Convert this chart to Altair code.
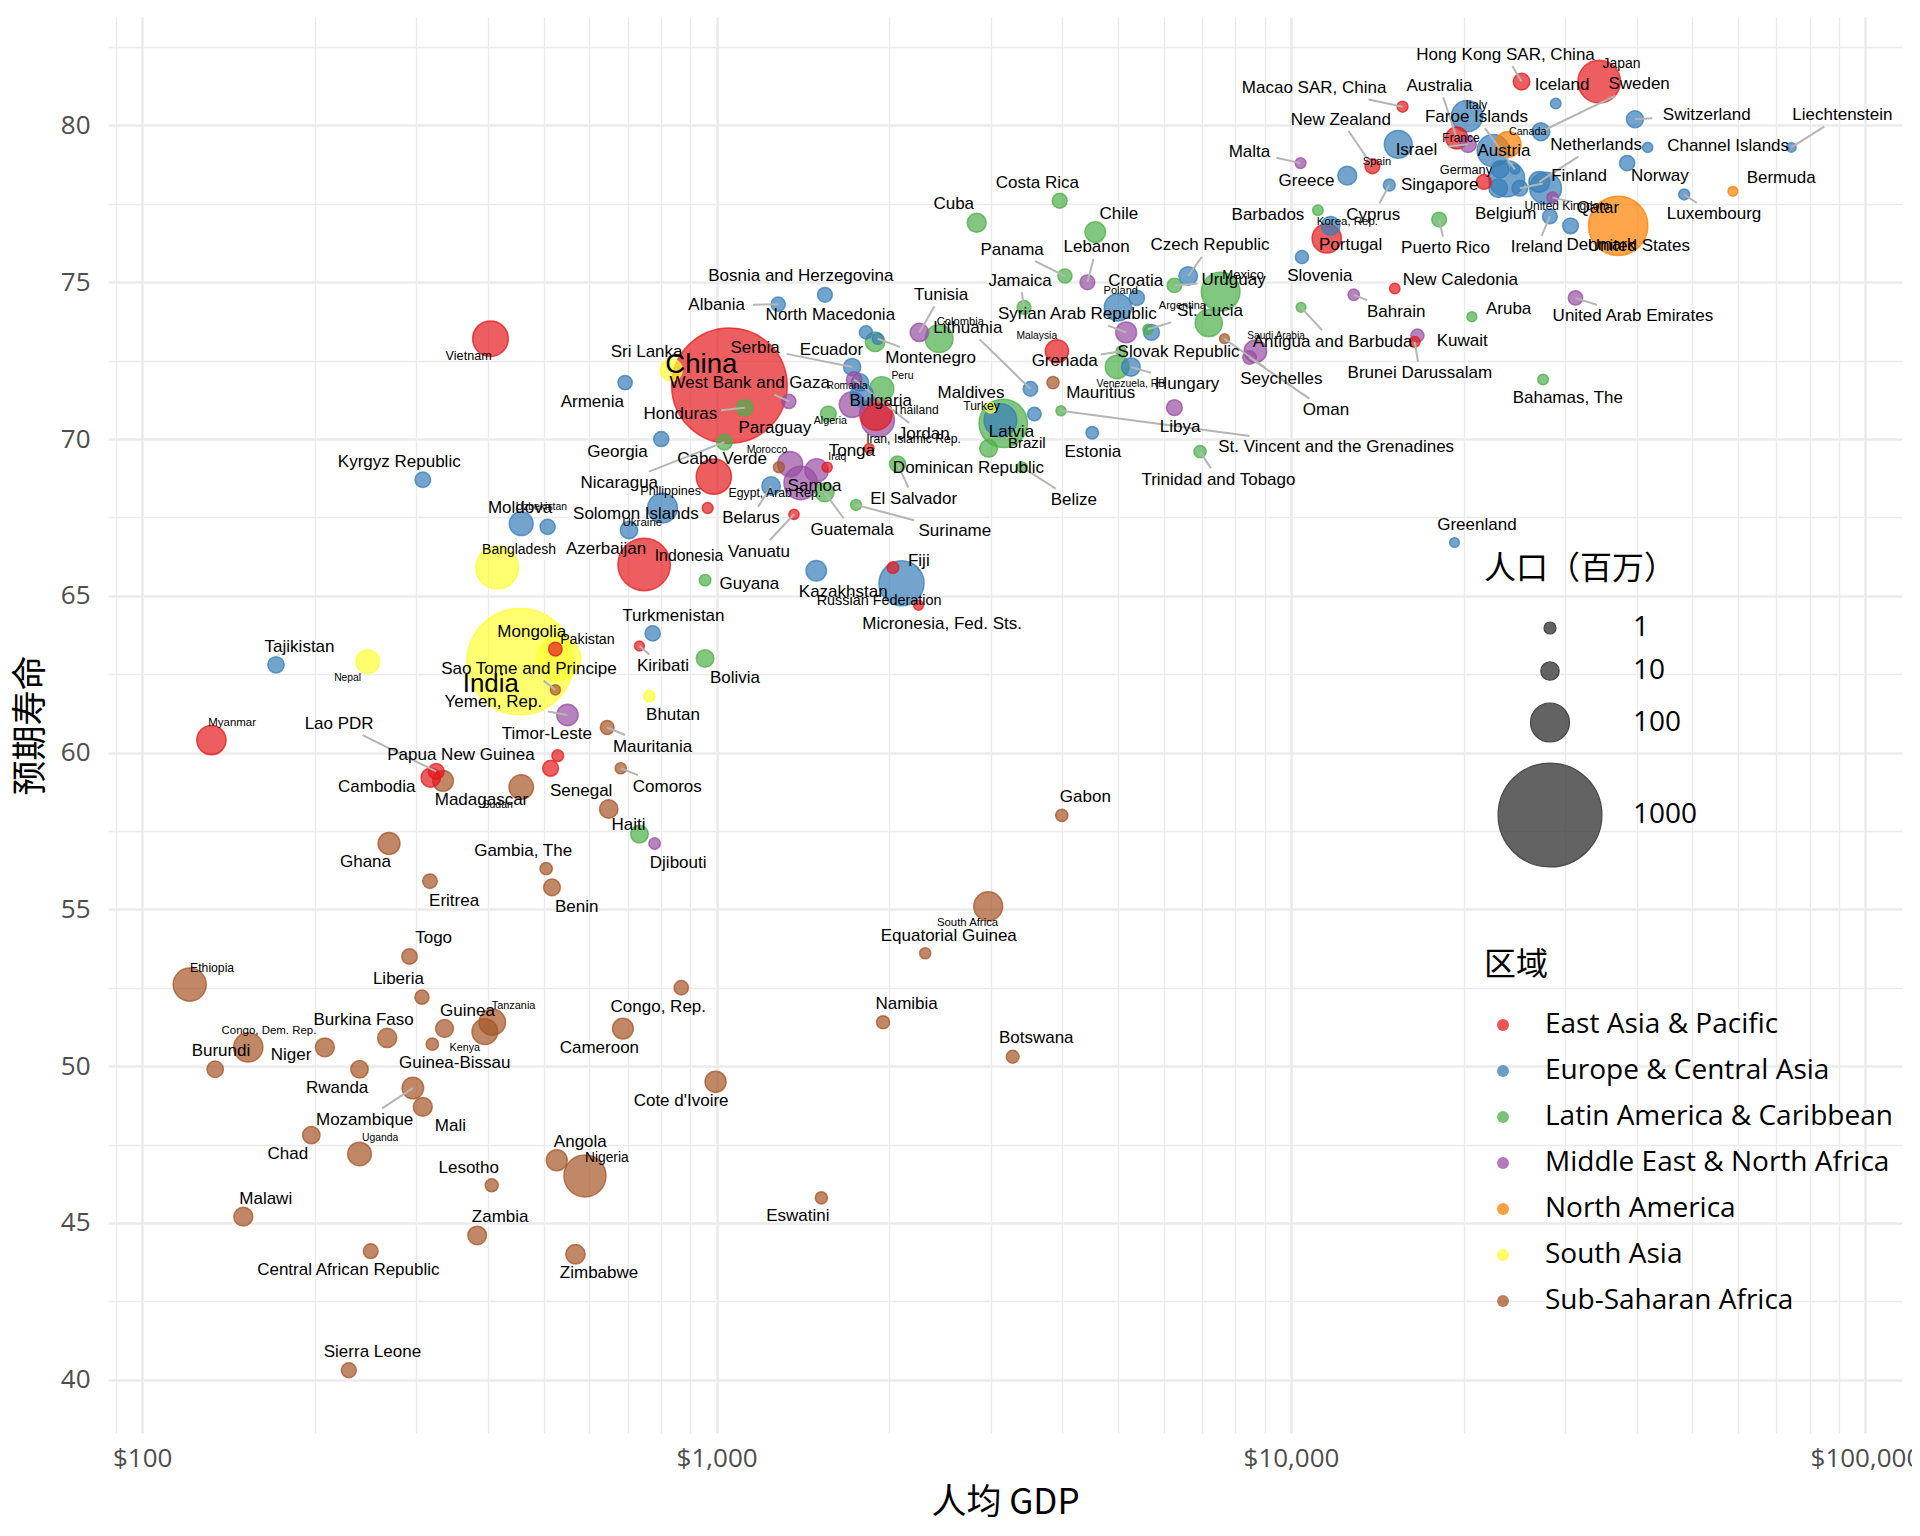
import math
import altair as alt
import pandas as pd

REGIONS = ["East Asia & Pacific", "Europe & Central Asia", "Latin America & Caribbean",
           "Middle East & North Africa", "North America", "South Asia", "Sub-Saharan Africa"]
COLORS = ["#E41A1C", "#377EB8", "#4DAF4A", "#984EA3", "#FF7F00", "#FFFF33", "#A65628"]

# ---- countries by region -------------------------------------------------
names_eap = ["Japan", "Hong Kong SAR, China", "Australia", "New Zealand", "Macao SAR, China",
             "Singapore", "Korea, Rep.", "New Caledonia", "Brunei Darussalam", "Malaysia",
             "Thailand", "China", "Vietnam", "Philippines", "Samoa",
             "Tonga", "Vanuatu", "Solomon Islands", "Indonesia", "Fiji",
             "Micronesia, Fed. Sts.", "Kiribati", "Mongolia", "Timor-Leste", "Papua New Guinea",
             "Lao PDR", "Cambodia", "Myanmar"]
names_eca = ["Iceland", "Sweden", "Switzerland", "Liechtenstein", "Channel Islands",
             "Italy", "Spain", "France", "Faroe Islands", "Austria",
             "Germany", "Belgium", "Finland", "Netherlands", "United Kingdom",
             "Ireland", "Denmark", "Luxembourg", "Norway", "Cyprus",
             "Greece", "Portugal", "Slovenia", "Greenland", "Hungary",
             "Slovak Republic", "Czech Republic", "Croatia", "Poland", "Lithuania",
             "Montenegro", "North Macedonia", "Bosnia and Herzegovina", "Albania", "Serbia",
             "Romania", "Bulgaria", "Turkey", "Latvia", "Estonia",
             "Belarus", "Ukraine", "Azerbaijan", "Uzbekistan", "Moldova",
             "Kazakhstan", "Russian Federation", "Turkmenistan", "Tajikistan", "Kyrgyz Republic",
             "Armenia", "Georgia"]
names_lac = ["Barbados", "Puerto Rico", "Aruba", "Antigua and Barbuda", "Bahamas, The",
             "St. Vincent and the Grenadines", "Trinidad and Tobago", "Venezuela, RB", "St. Lucia", "Argentina",
             "Uruguay", "Mexico", "Grenada", "Jamaica", "Panama",
             "Costa Rica", "Cuba", "Chile", "Colombia", "Ecuador",
             "Peru", "Paraguay", "Honduras", "Nicaragua", "Guatemala",
             "El Salvador", "Suriname", "Dominican Republic", "Belize", "Brazil",
             "Guyana", "Bolivia", "Haiti"]
names_mena = ["Israel", "Malta", "Qatar", "Bahrain", "United Arab Emirates",
              "Kuwait", "Oman", "Saudi Arabia", "Libya", "Syrian Arab Republic",
              "Lebanon", "Tunisia", "Jordan", "Algeria", "Iran, Islamic Rep.",
              "West Bank and Gaza", "Morocco", "Iraq", "Egypt, Arab Rep.", "Yemen, Rep.",
              "Djibouti"]
names_na = ["Canada", "United States", "Bermuda"]
names_sa = ["Sri Lanka", "Maldives", "Bangladesh", "Nepal", "India", "Pakistan", "Bhutan"]
names_ssa = ["Seychelles", "Mauritius", "Cabo Verde", "Sao Tome and Principe", "Mauritania",
             "Comoros", "Madagascar", "Sudan", "Senegal", "Ghana",
             "Gambia, The", "Eritrea", "Benin", "South Africa", "Gabon",
             "Equatorial Guinea", "Togo", "Ethiopia", "Liberia", "Namibia",
             "Botswana", "Eswatini", "Cote d'Ivoire", "Congo, Rep.", "Cameroon",
             "Tanzania", "Guinea", "Kenya", "Guinea-Bissau", "Congo, Dem. Rep.",
             "Burundi", "Burkina Faso", "Niger", "Rwanda", "Mozambique",
             "Mali", "Chad", "Uganda", "Angola", "Nigeria",
             "Lesotho", "Malawi", "Zambia", "Zimbabwe", "Central African Republic",
             "Sierra Leone"]

# ---- GDP per capita (US$) --------------------------------------------------
gdp = [
    # EAP
    34400, 25200, 19430, 13860, 15640, 21670, 11540, 15160, 16420, 3913,
    1894, 1053, 404, 989, 1558, 1843, 1364, 965, 748, 2028,
    2247, 734, 524, 529, 514, 325, 318, 132,
    # ECA
    28900, 27230, 39700, 74300, 41780, 20260, 15370, 22490, 24540, 23110,
    23740, 22950, 25030, 27050, 27750, 28230, 30670, 48360, 38480, 14830,
    12530, 11720, 10450, 19260, 5264, 5717, 6622, 5391, 4996, 3519,
    1908, 1820, 1544, 1280, 1722, 1791, 1777, 3120, 3575, 4507,
    1244, 805, 704, 457, 508, 1491, 2099, 774, 171, 308,
    693, 801,
    # LAC
    11140, 18110, 20650, 10410, 27470, 3977, 6945, 4980, 5636, 7193,
    6266, 7543, 5059, 3430, 4041, 3957, 2837, 4563, 2440, 1888,
    1939, 1565, 1119, 1032, 1542, 2066, 1749, 2975, 3404, 3155,
    955, 955, 734,
    # MENA
    20340, 10390, 28530, 12860, 31280, 16600, 8470, 8670, 6266, 5165,
    4421, 2254, 1736, 1722, 1909, 1336, 1343, 1493, 1401, 550,
    780,
    # NA
    23880, 37120, 58790,
    # SA
    834, 2999, 415, 247, 455, 531, 764,
    # SSA
    7660, 3852, 1284, 524, 645, 681, 334, 457, 649, 269,
    505, 317, 517, 2971, 3990, 2308, 292, 121, 307, 1949,
    3277, 1522, 996, 868, 687, 407, 336, 395, 320, 153,
    134, 267, 208, 239, 296, 308, 197, 239, 527, 590,
    406, 150, 383, 568, 250, 229,
]

# ---- life expectancy (years) ----------------------------------------------
life = [
    # EAP
    81.4, 81.4, 79.6, 78.7, 80.6, 78.2, 76.4, 74.8, 73.1, 72.8,
    70.8, 71.7, 73.2, 68.8, 69.1, 69.7, 67.6, 67.8, 66.0, 65.9,
    64.7, 63.4, 63.3, 59.9, 59.5, 59.4, 59.2, 60.4,
    # ECA
    80.7, 79.8, 80.2, 79.3, 79.3, 80.3, 79.4, 79.2, 78.6, 78.6,
    78.3, 78.0, 78.0, 78.2, 78.0, 77.1, 76.8, 77.8, 78.8, 78.1,
    78.4, 76.8, 75.8, 66.7, 72.3, 73.4, 75.2, 74.5, 74.2, 71.6,
    73.2, 73.4, 74.6, 74.3, 72.3, 71.4, 71.8, 70.6, 70.8, 70.2,
    68.5, 67.8, 67.1, 67.3, 67.2, 65.8, 65.4, 63.8, 62.8, 68.7,
    71.8, 70.0,
    # LAC
    77.3, 77.0, 73.9, 74.2, 71.9, 70.9, 69.6, 72.3, 73.5, 73.7,
    74.9, 74.7, 72.8, 74.2, 75.2, 77.6, 76.9, 76.6, 73.2, 73.1,
    71.6, 70.8, 71.0, 69.9, 68.3, 69.2, 67.9, 69.7, 69.1, 70.5,
    65.5, 63.0, 57.4,
    # MENA
    79.4, 78.8, 77.7, 74.6, 74.5, 73.3, 72.6, 72.8, 71.0, 73.4,
    75.0, 73.4, 71.9, 71.1, 70.6, 71.2, 69.2, 69.0, 68.6, 61.2,
    57.1,
    # NA
    79.4, 76.8, 77.9,
    # SA
    72.2, 71.0, 65.9, 62.9, 62.9, 63.0, 61.8,
    # SSA
    73.2, 71.8, 69.1, 62.0, 60.8, 59.5, 59.1, 58.9, 58.2, 57.1,
    56.3, 55.9, 55.7, 55.1, 58.0, 53.6, 53.5, 52.6, 52.2, 51.4,
    50.3, 45.8, 49.5, 52.5, 51.2, 51.4, 51.2, 51.1, 50.7, 50.6,
    49.9, 50.9, 50.6, 49.9, 49.3, 48.7, 47.8, 47.2, 47.0, 46.5,
    46.2, 45.2, 44.6, 44.0, 44.1, 40.3,
]

# ---- population (millions) -------------------------------------------------
pop = [
    # EAP
    127, 6.7, 19.2, 3.9, 0.43, 4.0, 47, 0.21, 0.33, 23,
    63, 1262, 79.9, 77.9, 0.17, 0.1, 0.19, 0.41, 212, 0.81,
    0.11, 0.084, 2.4, 0.85, 5.4, 5.3, 12.2, 46.7,
    # ECA
    0.28, 8.9, 7.2, 0.033, 0.15, 57, 40, 60.9, 0.046, 8.0,
    82.2, 10.3, 5.2, 15.9, 58.9, 3.8, 5.3, 0.44, 4.5, 0.94,
    10.9, 10.3, 2.0, 0.056, 10.2, 5.4, 10.3, 4.5, 38, 3.5,
    0.6, 2.0, 3.8, 3.1, 7.5, 22.4, 8.2, 64, 2.4, 1.4,
    10, 49, 8.0, 24.7, 4.3, 14.9, 146, 4.5, 6.2, 4.9,
    3.1, 4.4,
    # LAC
    0.27, 3.8, 0.09, 0.077, 0.3, 0.11, 1.3, 24, 0.16, 37,
    3.3, 98, 0.1, 2.6, 3.0, 3.9, 11.1, 15.2, 40, 12.6,
    26, 5.3, 6.5, 5.1, 11.2, 5.9, 0.47, 8.5, 0.25, 175,
    0.74, 8.3, 8.5,
    # MENA
    6.3, 0.39, 0.6, 0.67, 3.1, 1.9, 2.3, 21, 5.3, 16,
    3.8, 9.6, 4.8, 31, 66, 2.9, 28.8, 23, 68, 17.5,
    0.72,
    # NA
    30.7, 282, 0.063,
    # SA
    19, 0.28, 128, 23.7, 1053, 138, 0.56,
    # SSA
    0.081, 1.2, 0.44, 0.14, 2.6, 0.54, 15.8, 27, 9.9, 19,
    1.3, 3.4, 6.9, 44.9, 1.2, 0.5, 4.9, 66, 2.9, 1.9,
    1.7, 1.1, 16.9, 3.2, 15.9, 34, 8.8, 31, 1.3, 47,
    6.4, 11.6, 11, 8.0, 18, 11, 8, 24, 16.4, 122,
    1.9, 11.1, 10.4, 12.2, 3.8, 4.1,
]

# ---- repelled label nudges: log10(GDP) units and years ----------------------
nudge_x = [
    # EAP
    0.039, -0.028, -0.030, -0.055, -0.154, -0.077, 0.036, 0.114, 0.009, -0.035,
    0.069, -0.049, -0.038, -0.075, -0.022, -0.030, -0.061, -0.125, 0.078, 0.045,
    0.041, 0.041, -0.041, -0.019, -0.156, -0.169, -0.094, 0.036,
    # ECA
    0.011, 0.171, 0.125, 0.089, 0.140, 0.016, -0.037, -0.056, -0.067, 0.007,
    -0.071, 0.013, 0.103, 0.099, 0.037, -0.023, 0.053, 0.052, 0.057, -0.028,
    -0.071, 0.035, 0.031, 0.039, 0.098, 0.047, 0.038, -0.002, 0.005, -0.109,
    0.092, -0.062, -0.042, -0.107, -0.169, -0.026, 0.036, -0.033, -0.040, 0.001,
    -0.035, -0.035, -0.040, 0.035, -0.048, 0.047, -0.039, 0.036, 0.041, -0.041,
    -0.057, -0.076,
    # LAC
    -0.087, 0.011, 0.064, 0.055, 0.043, 0.479, 0.032, 0.024, 0.108, -0.046,
    0.103, 0.039, -0.098, -0.007, -0.092, -0.039, -0.040, 0.041, 0.037, -0.076,
    0.036, -0.093, -0.112, -0.183, 0.048, 0.028, 0.172, -0.035, 0.090, 0.041,
    0.077, 0.052, -0.019,
    # MENA
    -0.090, -0.089, 0.079, 0.074, 0.100, 0.078, 0.133, 0.036, 0.010, -0.085,
    0.016, 0.038, 0.121, -0.038, 0.062, -0.068, -0.040, 0.036, -0.045, -0.129,
    0.041,
    # NA
    0.034, 0.036, 0.084,
    # SA
    -0.043, -0.034, 0.038, -0.035, -0.051, 0.050, 0.041,
    # SSA
    0.099, 0.083, -0.099, -0.046, 0.079, 0.081, 0.067, -0.041, -0.048, -0.041,
    -0.040, 0.042, 0.043, -0.036, 0.041, 0.041, 0.042, 0.039, -0.041, 0.041,
    0.041, -0.041, -0.060, -0.040, -0.041, 0.037, 0.040, -0.035, 0.039, 0.036,
    0.010, -0.041, -0.059, -0.039, -0.084, 0.048, -0.041, 0.036, 0.041, 0.038,
    -0.040, 0.039, 0.040, 0.041, -0.039, 0.041,
]
nudge_y = [
    # EAP
    0.565, 0.861, 1.668, 1.490, 0.597, -0.105, 0.523, 0.268, -1.008, 0.478,
    0.128, 0.670, -0.555, -0.469, -0.587, -0.077, -1.193, -0.191, 0.255, 0.211,
    -0.606, -0.638, 0.561, 0.692, 0.434, 1.521, -0.287, 0.533,
    # ECA
    0.584, 1.522, 0.128, 1.030, 0.051, 0.341, -0.565, 0.396, 1.680, 0.584,
    0.265, -0.820, 0.383, 1.171, -0.555, -0.989, -0.616, -0.638, -0.424, -0.947,
    -0.185, -0.616, -0.596, 0.565, -0.533, -0.625, 0.976, 0.552, 0.510, 1.946,
    -0.628, 0.565, 0.593, -0.032, 0.616, 0.287, -0.587, 0.447, -0.565, -0.606,
    -1.030, -0.475, -0.606, 0.533, 0.587, -0.670, -0.565, 0.565, 0.565, 0.565,
    -0.606, -0.424,
    # LAC
    -0.159, -0.906, 0.233, -1.091, -0.606, -1.167, -0.903, -0.552, 0.587, 0.552,
    0.159, 0.530, -0.297, 0.848, 0.842, 0.565, 0.584, 0.565, 0.542, -0.268,
    0.424, -0.447, -0.214, -1.308, -1.202, -1.116, -0.829, -0.616, -1.046, -0.638,
    -0.128, -0.619, 0.287,
    # MENA
    -0.182, 0.360, -0.319, -0.535, -0.587, -0.182, -1.678, 0.491, -0.616, 0.584,
    1.116, 1.203, -1.754, -0.533, -0.584, 0.584, 0.447, 0.424, -0.319, 0.424,
    -0.616,
    # NA
    0.392, -0.638, 0.415,
    # SA
    0.561, 0.478, 0.555, -0.520, -0.702, 0.606, -0.606,
    # SSA
    -1.295, -0.329, 0.265, 0.663, -0.606, -0.584, -0.616, -0.565, 0.587, -0.597,
    0.574, -0.638, -0.616, -0.520, 0.587, 0.561, 0.600, 0.542, 0.587, 0.584,
    0.587, -0.587, -0.625, -0.606, -0.619, 0.510, 0.552, -0.533, -0.606, 0.510,
    0.584, 0.574, -0.246, -0.593, -1.011, -0.619, -0.606, 0.501, 0.584, 0.555,
    0.565, 0.574, 0.587, -0.606, -0.606, 0.574,
]

groups = [names_eap, names_eca, names_lac, names_mena, names_na, names_sa, names_ssa]
country = [n for g in groups for n in g]
region = [REGIONS[i] for i, g in enumerate(groups) for _ in g]
n = len(country)
assert all(len(a) == n for a in (gdp, life, pop, nudge_x, nudge_y)), [len(a) for a in (gdp, life, pop, nudge_x, nudge_y)]

df = pd.DataFrame({"country": country, "region": region, "gdp": gdp, "life": life,
                   "pop": pop, "nx": nudge_x, "ny": nudge_y}).sort_values("pop", ascending=False)

# ---- geometry / scales -----------------------------------------------------
W, H = 1794, 1416
X_DOM = [87.2, 115800]
Y_DOM = [38.30, 83.46]
LX0 = math.log10(X_DOM[0])
LXR = math.log10(X_DOM[1]) - LX0
Y1 = Y_DOM[1]
YR = Y_DOM[1] - Y_DOM[0]

x_scale = alt.Scale(type="log", domain=X_DOM, nice=False, zero=False)
y_scale = alt.Scale(domain=Y_DOM, nice=False, zero=False)
color_scale = alt.Scale(domain=REGIONS, range=COLORS)

# circle diameter ~ 9 + 3*sqrt(pop) px; Vega symbol size = bounding-box area (d^2)
sz_dom = [0, 0.03, 0.1, 0.3, 1, 3, 10, 30, 100, 300, 1000, 1500]
sz_rng = [round((9 + 3 * math.sqrt(v)) ** 2, 2) for v in sz_dom]
size_scale = alt.Scale(type="linear", domain=sz_dom, range=sz_rng, zero=False, nice=False)

x_vals = [90] + [m * 10 ** e for e in (2, 3, 4) for m in range(1, 10)] + [100000]
y_vals = [40 + 2.5 * i for i in range(18)]
MAJOR_X = "indexof([100,1000,10000,100000], datum.value) >= 0"
MAJOR_Y = "datum.value % 5 === 0"

GRID = "#EBEBEB"
TICK_FONT = "Open Sans"
CJK = "Noto Sans CJK SC"

x_axis = alt.Axis(
    values=x_vals, labelExpr=f"{MAJOR_X} ? '$' + format(datum.value, ',') : ''",
    labelOverlap=False, labelFlush=False, grid=True, gridColor=GRID,
    gridWidth={"condition": {"test": MAJOR_X, "value": 2.6}, "value": 1.3},
    domain=False, ticks=False, tickSize=0,
    labelFont=TICK_FONT, labelFontSize=26, labelColor="#4D4D4D", labelPadding=12,
    title="人均 GDP", titleFont=CJK, titleFontSize=35, titleFontWeight="normal",
    titleColor="#000000", titleY=69, titleBaseline="middle",
)
y_axis = alt.Axis(
    values=y_vals, labelExpr=f"{MAJOR_Y} ? format(datum.value, 'd') : ''",
    labelOverlap=False, labelFlush=False, grid=True, gridColor=GRID,
    gridWidth={"condition": {"test": MAJOR_Y, "value": 2.6}, "value": 1.3},
    domain=False, ticks=False, tickSize=0,
    labelFont=TICK_FONT, labelFontSize=26, labelColor="#4D4D4D", labelPadding=18,
    title="预期寿命", titleFont=CJK, titleFontSize=35, titleFontWeight="normal",
    titleColor="#000000", titleX=-78, titleY=H / 2, titleAngle=270, titleBaseline="middle",
)

size_legend = alt.Legend(
    title="人口（百万）", values=[1, 10, 100, 1000], format="d",
    orient="none", legendX=1376, legendY=537,
    titleFont=CJK, titleFontSize=32, titleFontWeight="normal", titleColor="#000000",
    titlePadding=28, titleLimit=600, labelLimit=600,
    labelFont=TICK_FONT, labelFontSize=28, labelColor="#000000", labelOffset=30,
    symbolType="circle", symbolFillColor="#3d3d3d", symbolStrokeColor="#1a1a1a",
    symbolStrokeWidth=1.2, symbolOpacity=0.8, rowPadding=15, symbolOffset=13,
)
color_legend = alt.Legend(
    title="区域", orient="none", legendX=1376, legendY=933,
    titleFont=CJK, titleFontSize=32, titleFontWeight="normal", titleColor="#000000",
    titlePadding=29, titleLimit=600, labelLimit=600,
    labelFont=TICK_FONT, labelFontSize=28, labelColor="#000000", labelOffset=28,
    symbolType="circle", symbolSize=144, symbolOpacity=0.75, symbolStrokeWidth=0,
    rowPadding=18, symbolOffset=5,
)

base = alt.Chart(df)

points = base.mark_circle(fillOpacity=0.7, strokeOpacity=0.75, strokeWidth=1.5).encode(
    x=alt.X("gdp:Q", scale=x_scale, axis=x_axis),
    y=alt.Y("life:Q", scale=y_scale, axis=y_axis),
    size=alt.Size("pop:Q", scale=size_scale, legend=size_legend),
    fill=alt.Fill("region:N", scale=color_scale, legend=color_legend),
    stroke=alt.Stroke("region:N", scale=color_scale, legend=None),
    order=alt.Order("pop:Q", sort="descending"),
)

lab = base.transform_calculate(
    lsize="datum.pop >= 20 ? 7.6 + 0.564 * sqrt(datum.pop) : 17",
    lgdp="datum.gdp * pow(10, datum.nx)",
    llife="datum.life + datum.ny",
    px=f"(log(datum.gdp) / LN10 - {LX0}) / {LXR} * {W}",
    py=f"({Y1} - datum.life) / {YR} * {H}",
).transform_calculate(
    lpx=f"datum.px + datum.nx / {LXR} * {W}",
    lpy=f"datum.py - datum.ny / {YR} * {H}",
    hw="length(datum.country) * 0.27 * datum.lsize + 4",
    hh="0.5 * datum.lsize + 3",
).transform_calculate(
    ddx="datum.px - datum.lpx",
    ddy="datum.py - datum.lpy",
).transform_calculate(
    tt="min(abs(datum.ddx) > 0.01 ? datum.hw / abs(datum.ddx) : 1e9, abs(datum.ddy) > 0.01 ? datum.hh / abs(datum.ddy) : 1e9)",
).transform_calculate(
    ex="datum.lpx + datum.tt * datum.ddx",
    ey="datum.lpy + datum.tt * datum.ddy",
).transform_calculate(
    gap="sqrt(pow(datum.ex - datum.px, 2) + pow(datum.ey - datum.py, 2)) - (9 + 3 * sqrt(datum.pop)) / 2",
    egdp=f"pow(10, {LX0} + datum.ex / {W} * {LXR})",
    elife=f"{Y1} - datum.ey / {H} * {YR}",
)

segments = lab.transform_filter("datum.tt < 1 && datum.gap > 8").mark_rule(
    color="#B5B5B5", strokeWidth=2
).encode(
    x=alt.X("gdp:Q", scale=x_scale, axis=x_axis),
    y=alt.Y("life:Q", scale=y_scale, axis=y_axis),
    x2="egdp:Q",
    y2="elife:Q",
)

texts = lab.mark_text(font="Liberation Sans", color="#000000", align="center", baseline="middle").encode(
    x=alt.X("lgdp:Q", scale=x_scale, axis=x_axis),
    y=alt.Y("llife:Q", scale=y_scale, axis=y_axis),
    text="country:N",
    size=alt.Size("lsize:Q", scale=None),
)

chart = alt.layer(points, segments, texts).resolve_scale(size="independent").properties(
    width=W, height=H,
    padding={"left": 100, "top": 9, "right": 10, "bottom": 95},
    autosize=alt.AutoSizeParams(type="none"),
    background="white",
).configure_view(stroke=None)

chart.save("out.html", embed_options={"renderer": "svg", "actions": False})
